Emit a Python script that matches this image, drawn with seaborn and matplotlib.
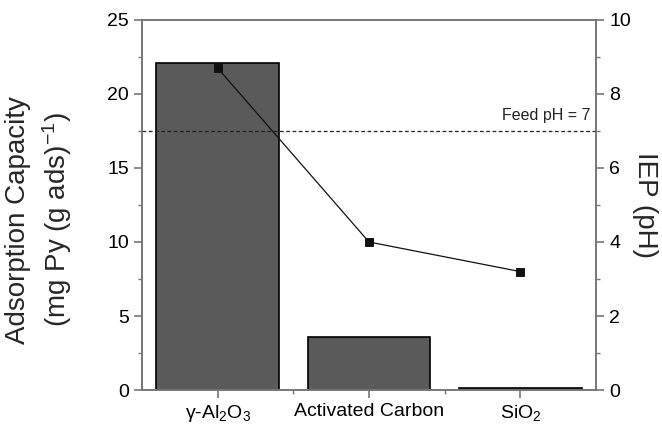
import numpy as np
import pandas as pd
import matplotlib
matplotlib.use('Agg')
import matplotlib.pyplot as plt
import seaborn as sns
from matplotlib.ticker import MultipleLocator, AutoMinorLocator

# data
categories = [r'$\gamma$-Al$_2$O$_3$', 'Activated Carbon', 'SiO$_2$']
capacity = [22.1, 3.6, 0.15]
iep = [8.7, 4.0, 3.2]
feed_ph = 7

sns.set_style('white')
plt.rcParams['font.family'] = ['Liberation Sans', 'DejaVu Sans']
plt.rcParams['mathtext.default'] = 'regular'

df = pd.DataFrame({'material': categories, 'capacity': capacity, 'iep': iep})

fig = plt.figure(figsize=(6.62, 4.29), dpi=100)
ax = fig.add_axes([0.2145, 0.0909, 0.6858, 0.8625])

sns.barplot(data=df, x='material', y='capacity', color='#5a5a5a', saturation=1,
            edgecolor='black', linewidth=1.2, width=0.81, ax=ax)
ax.set_ylim(0, 25)
ax.yaxis.set_major_locator(MultipleLocator(5))
ax.yaxis.set_minor_locator(AutoMinorLocator(2))
ax.set_xlabel('')
ax.set_ylabel('Adsorption Capacity\n(mg Py (g ads)$^{-1}$)', fontsize=20,
              linespacing=1.35)
ax.yaxis.set_label_coords(-0.15, 0.46)

ax2 = ax.twinx()
sns.pointplot(data=df, x='material', y='iep', color='#111111', markers='s',
              linestyles='-', ax=ax2, markersize=5.5, linewidth=0.9)
ax2.set_ylim(0, 10)
ax2.yaxis.set_major_locator(MultipleLocator(2))
ax2.yaxis.set_minor_locator(AutoMinorLocator(2))
ax2.set_ylabel('IEP (pH)', fontsize=20, rotation=270, va='bottom')
ax2.yaxis.set_label_coords(1.08, 0.5)
ax2.set_xlabel('')
ax2.axhline(feed_ph, color='#222222', linestyle=(0, (3, 2)), linewidth=0.9)
ax2.text(2.46, feed_ph + 0.22, 'Feed pH = 7', ha='right', va='bottom', fontsize=11.5,
         color='#222222')

ax.set_xlim(-0.5, 2.5)
ax.set_xticks(range(len(categories)))
ax.set_xticklabels(categories)
ax.set_xticks([0.5, 1.5], minor=True)

for a in (ax, ax2):
    for s in a.spines.values():
        s.set_color('#777777')
        s.set_linewidth(1.2)
    a.tick_params(which='both', direction='out', colors='#777777', labelcolor='black',
                  labelsize=14)
    a.tick_params(which='major', length=6, width=1.2)
    a.tick_params(which='minor', length=3, width=1.0)
ax.tick_params(axis='y', which='both', left=True, right=False)
ax.tick_params(axis='x', which='both', bottom=True, top=False)
ax2.tick_params(axis='y', which='both', right=True, left=False)

fig.savefig('out.png', dpi=100)
